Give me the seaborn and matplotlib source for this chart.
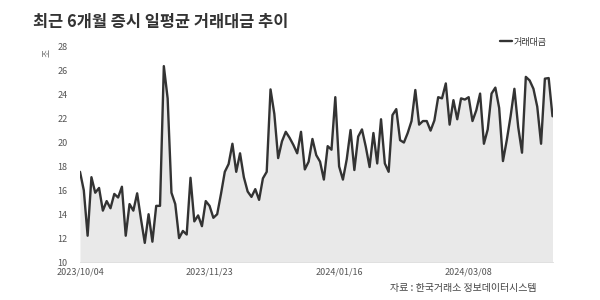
import numpy as np
import pandas as pd
import matplotlib
matplotlib.use("Agg")
import matplotlib.pyplot as plt
import seaborn as sns

# ---- data (조 원, daily average trading value) ----
values = [
    17.55, 16.0, 12.2, 17.1, 15.8, 16.2, 14.3, 15.1, 14.5, 15.7,
    15.4, 16.3, 12.2, 14.85, 14.3, 15.75, 13.6, 11.6, 14.0, 11.7,
    14.7, 14.7, 26.4, 23.7, 15.8, 14.85, 12.0, 12.6, 12.3, 17.05,
    13.4, 13.9, 13.0, 15.1, 14.7, 13.7, 14.0, 15.7, 17.55, 18.2,
    19.9, 17.55, 19.1, 17.1, 15.9, 15.45, 16.1, 15.2, 17.0, 17.55,
    24.45, 22.4, 18.7, 20.1, 20.9, 20.4, 19.8, 19.1, 20.9, 17.75,
    18.4, 20.3, 18.95, 18.4, 16.9, 19.7, 19.4, 23.8, 18.0, 16.9,
    18.6, 21.05, 17.7, 20.5, 21.1, 19.65, 17.95, 20.8, 18.25, 21.95,
    18.25, 17.55, 22.3, 22.8, 20.2, 20.0, 20.8, 21.8, 24.4, 21.5,
    21.8, 21.8, 21.0, 21.85, 23.8, 23.7, 24.95, 21.5, 23.55, 21.95,
    23.7, 23.6, 23.8, 21.8, 22.7, 24.1, 19.9, 21.1, 24.1, 24.6,
    22.9, 18.45, 20.2, 22.2, 24.5, 21.3, 19.15, 25.5, 25.2, 24.5,
    23.0, 19.9, 25.35, 25.4, 22.2,
]
tick_labels = ["2023/10/04", "2023/11/23", "2024/01/16", "2024/03/08"]
tick_index = [0, 34, 68, 102]
series_name = "거래대금"
title = "최근 6개월 증시 일평균 거래대금 추이"
unit = "조"
source = "자료 : 한국거래소 정보데이터시스템"

df = pd.DataFrame({"idx": np.arange(len(values)), "value": values})

sns.set_style("white")
plt.rcParams["font.family"] = ["Noto Sans CJK KR", "DejaVu Sans"]

fig = plt.figure(figsize=(6, 3), dpi=100)
ax = fig.add_axes([80 / 600, 1 - 262 / 300, (552.5 - 80) / 600, (262 - 47) / 300])

ax.fill_between(df["idx"], df["value"], 10, color="#e9e9e9", linewidth=0, zorder=1)
sns.lineplot(data=df, x="idx", y="value", color="#333333", linewidth=1.7,
             ax=ax, label=series_name, zorder=3)

ax.set_xlim(0, len(values) - 1)
ax.set_ylim(10, 28)
ax.set_yticks(np.arange(10, 29, 2))
ax.set_xticks(tick_index)
ax.set_xticklabels(tick_labels)
ax.set_xticks([0, 48, 96], minor=True)
ax.tick_params(axis="y", length=0, pad=9, labelsize=6.5, labelcolor="#555555")
ax.tick_params(axis="x", which="major", length=0, pad=4, labelsize=6.5, labelcolor="#555555")
ax.tick_params(axis="x", which="minor", length=3, width=0.6, color="#d0d0d0")
ax.set_xlabel("")
ax.set_ylabel("")
for s in ["top", "right", "left"]:
    ax.spines[s].set_visible(False)
ax.spines["bottom"].set_color("#dddddd")
ax.spines["bottom"].set_linewidth(0.6)

leg = ax.legend(frameon=False, loc="center right",
                bbox_to_anchor=(551 / 600, 1 - 42 / 300), bbox_transform=fig.transFigure,
                handlelength=1.3, handletextpad=0.2, fontsize=6.5, borderpad=0)
for t in leg.get_texts():
    t.set_color("#333333")

fig.text(33 / 600, 1 - 22 / 300, title, fontsize=11.8, fontweight="bold",
         color="#333333", ha="left", va="center")
fig.text(47 / 600, 1 - 53 / 300, unit, fontsize=6.3, color="#666666",
         rotation=90, ha="center", va="center")
fig.text(537 / 600, 1 - 288 / 300, source, fontsize=7.2, color="#444444",
         ha="right", va="center")

fig.savefig("out.png", dpi=100, facecolor="white")
